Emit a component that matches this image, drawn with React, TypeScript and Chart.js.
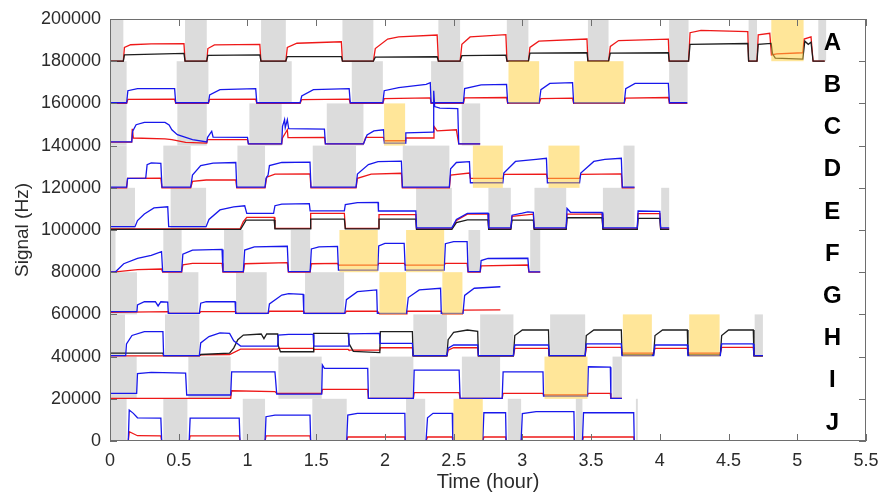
import React, { useEffect, useRef } from "react";
import { Chart, registerables } from "chart.js";
Chart.register(...registerables);

type P = [number, number];
type R = [number, number];

const X_TICKS = [0, 0.5, 1, 1.5, 2, 2.5, 3, 3.5, 4, 4.5, 5, 5.5];
const Y_TICKS = [0, 20000, 40000, 60000, 80000, 100000, 120000, 140000, 160000, 180000, 200000];
const ROW_LABELS = ["A", "B", "C", "D", "E", "F", "G", "H", "I", "J"];
const ROW_BASES = [180000, 160000, 140000, 120000, 100000, 80000, 60000, 40000, 20000, 0];
const BAND_HEIGHT = 20000;

// ---- Row A ----
const A_GRAY: R[] = [[0, 0.097], [0.546, 0.704], [1.099, 1.279], [1.691, 1.916], [2.389, 2.547], [2.887, 3.044], [3.477, 3.627], [4.068, 4.209], [4.646, 4.707], [5.153, 5.21]];
const A_YELLOW: R[] = [[4.811, 5.046]];
const A_RED: P[] = [[0, 180000], [0.097, 180000], [0.105, 186500], [0.15, 187800], [0.3, 188200], [0.538, 188300], [0.546, 180000],
  [0.704, 180000], [0.712, 186000], [0.76, 187700], [1.09, 188000], [1.098, 180000],
  [1.279, 180000], [1.29, 186500], [1.36, 188500], [1.683, 189200], [1.691, 180000],
  [1.916, 180000], [1.93, 186000], [2.02, 190500], [2.1, 191500], [2.38, 192400], [2.389, 180000],
  [2.547, 180000], [2.56, 188000], [2.62, 191500], [2.88, 192600], [2.888, 180000],
  [3.044, 180000], [3.055, 186500], [3.12, 189500], [3.47, 190500], [3.477, 180000],
  [3.627, 180000], [3.64, 187000], [3.7, 189800], [4.062, 190500], [4.068, 180000],
  [4.209, 180000], [4.22, 193500], [4.3, 194600], [4.64, 194000], [4.646, 180000],
  [4.707, 180000], [4.716, 192500], [4.8, 193200], [4.812, 183000], [4.85, 183500], [5.04, 184000], [5.05, 190500], [5.1, 191500], [5.115, 180000], [5.2, 180000]];
const A_BLACK: P[] = [[0, 180000], [0.097, 180000], [0.105, 183000], [0.538, 183700], [0.546, 180000],
  [0.704, 180000], [0.712, 182800], [1.09, 183000], [1.098, 180000],
  [1.279, 180000], [1.29, 182200], [1.683, 182200], [1.691, 180000],
  [1.916, 180000], [1.93, 181900], [2.38, 182100], [2.389, 180000],
  [2.547, 180000], [2.56, 182600], [2.88, 182900], [2.888, 180000],
  [3.044, 180000], [3.055, 183800], [3.47, 184000], [3.477, 180000],
  [3.627, 180000], [3.64, 183800], [4.062, 184000], [4.068, 180000],
  [4.209, 180000], [4.22, 188000], [4.64, 188400], [4.646, 180000],
  [4.707, 180000], [4.716, 188000], [4.81, 188400], [4.82, 183500], [4.84, 181500], [5.04, 181000], [5.055, 189500], [5.08, 188000], [5.1, 189000], [5.115, 180000], [5.2, 180000]];

// ---- Row B ----
const B_GRAY: R[] = [[0, 0.121], [0.485, 0.716], [1.084, 1.322], [1.759, 1.985], [2.336, 2.571], [4.068, 4.202]];
const B_YELLOW: R[] = [[2.899, 3.122], [3.377, 3.736]];
const B_BLUE: P[] = [[0, 160300], [0.121, 160300], [0.13, 166000], [0.2, 167000], [0.47, 167000], [0.478, 160300],
  [0.716, 160300], [0.725, 164000], [0.8, 166500], [1.06, 167000], [1.068, 160300],
  [1.383, 160300], [1.395, 163500], [1.48, 166500], [1.74, 167000], [1.748, 160300],
  [1.985, 160300], [1.995, 166000], [2.1, 167500], [2.3, 169000], [2.33, 169800], [2.336, 160300],
  [2.571, 160300], [2.58, 167000], [2.7, 168800], [2.885, 169000], [2.893, 160300],
  [3.122, 160300], [3.135, 166500], [3.2, 169500], [3.365, 169800], [3.373, 160300],
  [3.741, 160300], [3.752, 167000], [3.82, 169500], [4.062, 169500], [4.07, 160300], [4.2, 160300]];
const B_RED: P[] = [[0, 160000], [0.121, 160000], [0.13, 161900], [0.47, 162000], [0.478, 160000],
  [0.716, 160000], [0.725, 161900], [1.06, 162000], [1.068, 160000],
  [1.383, 160000], [1.395, 161800], [1.74, 162000], [1.748, 160000],
  [1.985, 160000], [1.995, 162300], [2.33, 162600], [2.336, 160000],
  [2.571, 160000], [2.58, 162600], [2.885, 162800], [2.893, 160000],
  [3.122, 160000], [3.135, 162300], [3.365, 162500], [3.373, 160000],
  [3.741, 160000], [3.752, 162500], [4.062, 162800], [4.07, 160000], [4.2, 160000]];

// ---- Row C ----
const C_GRAY: R[] = [[0, 0.121], [0.49, 0.704], [1.014, 1.249], [1.577, 1.844], [2.559, 2.693]];
const C_YELLOW: R[] = [[1.994, 2.147]];
const C_BLUE: P[] = [[0, 141800], [0.158, 141800], [0.165, 146800], [0.19, 149900], [0.25, 151000], [0.4, 151000], [0.43, 149800], [0.45, 147500], [0.49, 145200], [0.6, 142800], [0.704, 141700],
  [0.71, 143900], [0.74, 146800], [0.75, 144000], [1.0, 143900], [1.007, 140800],
  [1.249, 140800], [1.255, 149100], [1.27, 152300], [1.275, 148500], [1.29, 152300], [1.3, 148000], [1.56, 147800], [1.567, 140800],
  [1.844, 140800], [1.87, 145000], [1.92, 147000], [1.99, 147500], [1.996, 141200], [2.147, 141200],
  [2.152, 146000], [2.35, 146400], [2.355, 166000], [2.362, 158500], [2.4, 157800], [2.53, 157500], [2.537, 140800], [2.693, 140800]];
const C_RED: P[] = [[0, 141600], [0.158, 141600], [0.162, 148000], [0.17, 143600], [0.4, 143200], [0.45, 142800], [0.55, 141500], [0.704, 141200],
  [0.71, 142800], [1.0, 142800], [1.007, 140800],
  [1.249, 140800], [1.255, 143600], [1.29, 147500], [1.295, 143800], [1.56, 143900], [1.567, 140800],
  [1.844, 140800], [1.86, 143900], [1.99, 143900], [1.996, 142300], [2.147, 142300],
  [2.152, 143600], [2.35, 143600], [2.357, 149100], [2.38, 147000], [2.52, 147500], [2.537, 140800], [2.693, 140800]];

// ---- Row D ----
const D_GRAY: R[] = [[0, 0.121], [0.388, 0.587], [0.927, 1.128], [1.475, 1.79], [2.13, 2.469], [3.736, 3.816]];
const D_YELLOW: R[] = [[2.64, 2.858], [3.19, 3.416]];
const D_BLUE: P[] = [[0, 120300], [0.121, 120300], [0.128, 124500], [0.26, 124600], [0.27, 131000], [0.3, 131800], [0.37, 131600], [0.378, 120300],
  [0.587, 120300], [0.6, 126000], [0.66, 130500], [0.75, 131700], [0.915, 132000], [0.922, 120300],
  [1.128, 120300], [1.135, 124500], [1.15, 126000], [1.16, 130500], [1.25, 132000], [1.455, 132200], [1.462, 120300],
  [1.79, 120300], [1.8, 126500], [1.88, 131000], [1.95, 132400], [2.12, 132600], [2.127, 120300],
  [2.469, 120300], [2.478, 129000], [2.52, 132000], [2.615, 132400], [2.622, 122400], [2.858, 122400],
  [2.865, 127000], [2.95, 132500], [3.1, 133500], [3.175, 134000], [3.182, 122400], [3.416, 122400],
  [3.425, 127000], [3.52, 132500], [3.6, 133500], [3.72, 134000], [3.727, 120300], [3.816, 120300]];
const D_RED: P[] = [[0, 120000], [0.121, 120000], [0.128, 124500], [0.37, 124600], [0.378, 120000],
  [0.587, 120000], [0.6, 123000], [0.7, 123700], [0.915, 123800], [0.922, 120000],
  [1.128, 120000], [1.14, 125000], [1.2, 126500], [1.455, 126600], [1.462, 120000],
  [1.79, 120000], [1.8, 124500], [1.9, 126500], [2.12, 126900], [2.127, 120000],
  [2.469, 120000], [2.478, 126000], [2.615, 127000], [2.622, 124500], [2.858, 124500],
  [2.865, 126400], [3.175, 126500], [3.182, 124500], [3.416, 124500],
  [3.425, 126400], [3.72, 126600], [3.727, 120000], [3.816, 120000]];

// ---- Row E ----
const E_GRAY: R[] = [[0, 0.182], [0.441, 0.699], [2.227, 2.487], [2.753, 2.916], [3.088, 3.319], [3.586, 3.816], [4.01, 4.068]];
const E_YELLOW: R[] = [];
const E_BLUE: P[] = [[0, 101600], [0.182, 101600], [0.2, 104500], [0.25, 107600], [0.32, 110500], [0.42, 111000], [0.427, 101600],
  [0.699, 101600], [0.72, 105000], [0.8, 109500], [0.9, 111000], [0.98, 111500], [0.995, 107900], [1.19, 107900],
  [1.2, 111500], [1.25, 112300], [1.45, 112500], [1.456, 109100], [1.705, 109100],
  [1.712, 112000], [1.8, 113000], [1.95, 113100], [1.953, 109000], [2.225, 109000], [2.23, 101000],
  [2.487, 101000], [2.52, 105000], [2.6, 107900], [2.75, 108000], [2.755, 101000],
  [2.916, 101000], [2.925, 107000], [3.0, 108000], [3.04, 108600], [3.08, 108400], [3.086, 101000],
  [3.319, 101000], [3.325, 110200], [3.35, 108400], [3.58, 108300], [3.586, 101000],
  [3.836, 101000], [3.842, 109000], [4.0, 108800], [4.006, 101000], [4.068, 101000]];
const E_RED: P[] = [[0, 100500], [0.946, 100500], [0.97, 104000], [0.995, 106000], [1.195, 106000], [1.2, 100800], [1.456, 100800],
  [1.46, 107900], [1.705, 107900], [1.712, 100800], [1.953, 100800], [1.957, 107300], [2.225, 107300], [2.23, 100500],
  [2.487, 100500], [2.52, 104500], [2.6, 107500], [2.75, 107600], [2.755, 100500],
  [2.916, 100500], [2.925, 106500], [3.08, 107500], [3.086, 100500],
  [3.319, 100500], [3.325, 107500], [3.58, 107500], [3.586, 100500],
  [3.836, 100500], [3.842, 107800], [4.0, 107800], [4.006, 100500], [4.068, 100500]];
const E_BLACK: P[] = [[0, 100300], [0.95, 100300], [0.99, 104700], [1.195, 104700], [1.2, 100500], [1.456, 100500],
  [1.46, 105200], [1.705, 105200], [1.712, 100500], [1.953, 100500], [1.957, 105200], [2.225, 105200], [2.23, 100300],
  [2.487, 100300], [2.52, 103500], [2.6, 104800], [2.75, 104800], [2.755, 100300],
  [2.916, 100300], [2.925, 104700], [3.08, 104700], [3.086, 100300],
  [3.319, 100300], [3.325, 105800], [3.58, 105800], [3.586, 100300],
  [3.836, 100300], [3.842, 105500], [4.0, 105500], [4.006, 100300], [4.068, 100300]];

// ---- Row F ----
const F_GRAY: R[] = [[0, 0.04], [0.388, 0.521], [0.83, 0.97], [1.315, 1.456], [2.608, 2.693], [3.057, 3.13]];
const F_YELLOW: R[] = [[1.669, 1.948], [2.154, 2.431]];
const F_BLUE: P[] = [[0, 80200], [0.04, 80200], [0.1, 84000], [0.2, 86500], [0.3, 88000], [0.375, 89700], [0.383, 80300],
  [0.521, 80300], [0.53, 88500], [0.6, 90500], [0.815, 90800], [0.822, 80300],
  [0.97, 80300], [0.98, 90500], [1.05, 92000], [1.29, 92300], [1.298, 80300],
  [1.456, 80300], [1.465, 91000], [1.52, 92000], [1.655, 92200], [1.662, 81000], [1.948, 81000],
  [1.955, 92500], [2.0, 93700], [2.14, 93700], [2.148, 81000], [2.431, 81000],
  [2.44, 93500], [2.5, 94500], [2.598, 94500], [2.605, 80300],
  [2.693, 80300], [2.7, 85500], [2.75, 86500], [3.04, 86600], [3.048, 80200], [3.13, 80200]];
const F_RED: P[] = [[0, 80000], [0.04, 80200], [0.2, 81200], [0.375, 81500], [0.383, 80000],
  [0.521, 80000], [0.53, 83500], [0.6, 84200], [0.815, 84200], [0.822, 80000],
  [0.97, 80000], [0.98, 84000], [1.29, 84500], [1.298, 80000],
  [1.456, 80000], [1.465, 84000], [1.655, 84200], [1.662, 83400], [1.948, 83400],
  [1.955, 84200], [2.14, 84200], [2.148, 83400], [2.431, 83400], [2.44, 84200], [2.598, 84200], [2.605, 80000],
  [2.693, 80000], [2.7, 83000], [3.04, 83400], [3.048, 80000], [3.13, 80000]];

// ---- Row G ----
const G_GRAY: R[] = [[0, 0.196], [0.424, 0.643], [0.917, 1.14], [1.419, 1.703]];
const G_YELLOW: R[] = [[1.96, 2.154], [2.418, 2.564]];
const G_BLUE: P[] = [[0, 61300], [0.196, 61300], [0.2, 64500], [0.25, 66000], [0.33, 66000], [0.35, 64000], [0.37, 66000], [0.42, 65800], [0.424, 60500],
  [0.65, 60500], [0.66, 65300], [0.7, 66000], [0.91, 66000], [0.914, 60500],
  [1.15, 60500], [1.16, 65000], [1.25, 69200], [1.3, 69800], [1.405, 69500], [1.41, 60500],
  [1.708, 60500], [1.72, 67000], [1.8, 70800], [1.94, 71600], [1.945, 60500],
  [2.157, 60500], [2.17, 68000], [2.25, 71600], [2.405, 72400], [2.41, 60500],
  [2.568, 60500], [2.58, 69000], [2.65, 72400], [2.84, 73100]];
const G_RED: P[] = [[0, 61000], [0.424, 61300], [0.43, 60500], [0.65, 60500], [0.66, 61300], [0.914, 61300], [0.92, 60500],
  [1.15, 60500], [1.16, 61500], [1.41, 61500], [1.415, 60500], [1.708, 60500], [1.72, 61500], [1.945, 61500],
  [1.96, 60300], [2.154, 60300], [2.16, 61500], [2.41, 61500], [2.418, 60300], [2.564, 60300], [2.57, 62000], [2.84, 62100]];

// ---- Row H ----
const H_GRAY: R[] = [[0, 0.109], [0.4, 0.65], [2.207, 2.451], [2.693, 2.935], [3.202, 3.457], [4.69, 4.75]];
const H_YELLOW: R[] = [[3.731, 3.942], [4.214, 4.435]];
const H_BLUE: P[] = [[0, 40500], [0.114, 40500], [0.12, 46000], [0.16, 50000], [0.25, 51800], [0.385, 51800], [0.39, 40500],
  [0.65, 40500], [0.66, 46500], [0.72, 49500], [0.8, 51200], [0.87, 51000], [0.9, 47500], [0.95, 45000], [1.22, 45000],
  [1.225, 50200], [1.3, 50500], [1.478, 50500], [1.482, 45000], [1.733, 45000], [1.738, 50800], [1.96, 51000],
  [1.965, 46300], [2.2, 46300], [2.205, 40500],
  [2.451, 40500], [2.46, 44000], [2.5, 45500], [2.675, 45500], [2.68, 40500],
  [2.935, 40500], [2.945, 45500], [3.19, 45500], [3.195, 40500],
  [3.457, 40500], [3.465, 46000], [3.72, 46000], [3.725, 40500],
  [3.955, 40500], [3.965, 45500], [4.2, 45500], [4.205, 40500],
  [4.44, 40500], [4.45, 46000], [4.68, 46000], [4.685, 40500], [4.75, 40500]];
const H_BLACK: P[] = [[0, 41600], [0.385, 41600], [0.39, 40500], [0.65, 40500], [0.66, 41000], [0.87, 41600], [0.9, 44000], [0.93, 48000],
  [0.97, 50200], [1.1, 50700], [1.12, 48500], [1.14, 50700], [1.22, 50700], [1.225, 45000], [1.24, 42300], [1.478, 42300],
  [1.482, 51000], [1.733, 51000], [1.74, 46000], [1.77, 42500], [1.963, 41900], [1.967, 51800], [2.2, 51800], [2.205, 40300],
  [2.451, 40300], [2.46, 48000], [2.5, 51500], [2.6, 52600], [2.675, 52000], [2.68, 40300],
  [2.935, 40300], [2.945, 50000], [3.0, 52600], [3.19, 52600], [3.195, 40300],
  [3.457, 40300], [3.465, 50000], [3.52, 52600], [3.72, 52600], [3.725, 40800], [3.955, 40800],
  [3.965, 50000], [4.02, 52600], [4.2, 52600], [4.205, 40800], [4.44, 40800],
  [4.45, 50000], [4.5, 52600], [4.68, 52600], [4.685, 40300], [4.75, 40300]];
const H_RED: P[] = [[0, 40300], [0.65, 40300], [0.66, 40800], [0.87, 41000], [0.95, 43500], [1.22, 43500], [1.225, 43900], [1.478, 43900],
  [1.482, 43400], [1.733, 43400], [1.738, 43100], [1.963, 43100], [1.967, 44200], [2.2, 44200], [2.205, 40300],
  [2.451, 40300], [2.46, 43000], [2.5, 44200], [2.675, 44200], [2.68, 40300],
  [2.935, 40300], [2.945, 43900], [3.19, 43900], [3.195, 40300],
  [3.457, 40300], [3.465, 44400], [3.72, 44400], [3.725, 41600], [3.955, 41600],
  [3.965, 43900], [4.2, 43900], [4.205, 41600], [4.44, 41600],
  [4.45, 44400], [4.68, 44400], [4.685, 40300], [4.75, 40300]];

// ---- Row I ----
const I_GRAY: R[] = [[0, 0.194], [0.57, 0.878], [1.225, 1.54], [1.892, 2.207], [2.56, 2.838], [3.656, 3.724]];
const I_YELLOW: R[] = [[3.161, 3.474]];
const I_BLUE: P[] = [[0, 22600], [0.194, 22600], [0.2, 32000], [0.3, 32500], [0.55, 32200], [0.558, 21800], [0.878, 21800],
  [0.885, 32800], [1.2, 32800], [1.213, 22200], [1.54, 22200], [1.545, 36000], [1.56, 34400], [1.875, 34400], [1.88, 20200],
  [2.207, 20200], [2.213, 33600], [2.54, 33600], [2.547, 20200], [2.853, 20200], [2.86, 32800], [3.15, 32800], [3.154, 21300],
  [3.474, 21300], [3.48, 35200], [3.64, 35000], [3.644, 20200], [3.724, 20200]];
const I_RED: P[] = [[0, 20200], [0.878, 20200], [0.885, 23800], [1.2, 23400], [1.213, 22600], [1.54, 22600], [1.545, 24500], [1.875, 24500],
  [1.88, 20200], [2.207, 20200], [2.213, 22900], [2.54, 22900], [2.547, 20200], [2.853, 20200], [2.86, 22600], [3.15, 22600],
  [3.154, 21800], [3.474, 21800], [3.48, 22600], [3.64, 22600], [3.644, 20200], [3.724, 20200]];

// ---- Row J ----
const J_GRAY: R[] = [[0, 0.121], [0.388, 0.563], [0.966, 1.128], [1.472, 1.722], [2.154, 2.293], [2.894, 2.991], [3.389, 3.437], [3.826, 3.84]];
const J_YELLOW: R[] = [[2.499, 2.712]];
const J_BLUE: P[] = [[0, 0], [0.133, 0], [0.14, 14700], [0.17, 13100], [0.2, 11000], [0.37, 10800], [0.376, 0],
  [0.576, 0], [0.583, 10800], [0.94, 10800], [0.946, 0],
  [1.128, 0], [1.135, 11500], [1.2, 12300], [1.455, 12300], [1.46, 0],
  [1.722, 0], [1.73, 12300], [1.8, 13100], [2.145, 13100], [2.148, 0],
  [2.299, 0], [2.31, 11000], [2.35, 13100], [2.49, 13100], [2.494, 0],
  [2.712, 0], [2.72, 13400], [2.878, 13400], [2.882, 0],
  [2.991, 0], [3.0, 13000], [3.1, 13900], [3.375, 13900], [3.379, 0],
  [3.437, 0], [3.445, 13400], [3.81, 13400], [3.814, 0], [3.84, 0]];
const J_RED: P[] = [[0, 0], [0.133, 0], [0.14, 4400], [0.2, 2500], [0.37, 2400], [0.376, 0], [0.576, 0], [0.583, 2400], [0.94, 2400], [0.946, 0],
  [1.128, 0], [1.135, 2400], [1.455, 2400], [1.46, 0], [1.722, 0], [1.73, 1900], [2.145, 1900], [2.148, 0],
  [2.299, 0], [2.31, 1900], [2.49, 1900], [2.494, 0], [2.712, 0], [2.72, 1900], [2.878, 1900], [2.882, 0],
  [2.991, 0], [3.0, 1900], [3.375, 1900], [3.379, 0], [3.437, 0], [3.445, 1900], [3.81, 1900], [3.814, 0], [3.84, 0]];

const ROW_GRAYS: R[][] = [A_GRAY, B_GRAY, C_GRAY, D_GRAY, E_GRAY, F_GRAY, G_GRAY, H_GRAY, I_GRAY, J_GRAY];
const ROW_YELLOWS: R[][] = [A_YELLOW, B_YELLOW, C_YELLOW, D_YELLOW, E_YELLOW, F_YELLOW, G_YELLOW, H_YELLOW, I_YELLOW, J_YELLOW];
const BLUE_SERIES: P[][] = [B_BLUE, C_BLUE, D_BLUE, E_BLUE, F_BLUE, G_BLUE, H_BLUE, I_BLUE, J_BLUE];
const BLACK_SERIES: P[][] = [A_BLACK, E_BLACK, H_BLACK];
const RED_SERIES: P[][] = [A_RED, B_RED, C_RED, D_RED, E_RED, F_RED, G_RED, H_RED, I_RED, J_RED];

const FONT = "'Liberation Sans', Arial, Helvetica, sans-serif";
const TEXT_COLOR = "#2b2b2b";
const GRAY_FILL = "rgb(220,220,220)";
const YELLOW_FILL = "rgba(255,208,60,0.52)";
const RED = "rgb(238,24,24)";
const BLUE = "rgb(24,24,235)";
const BLACK = "rgb(30,30,30)";

const overlayPlugin = {
  id: "overlay",
  beforeDatasetsDraw(chart: any) {
    const { ctx, chartArea, scales } = chart;
    const x = scales.x, y = scales.y;
    ctx.save();
    ctx.beginPath();
    ctx.rect(chartArea.left, chartArea.top, chartArea.right - chartArea.left, chartArea.bottom - chartArea.top);
    ctx.clip();
    ctx.fillStyle = GRAY_FILL;
    ROW_BASES.forEach((base, i) => {
      ROW_GRAYS[i].forEach(([a, b]) => {
        const x0 = x.getPixelForValue(a), x1 = x.getPixelForValue(b);
        const y0 = y.getPixelForValue(base + BAND_HEIGHT), y1 = y.getPixelForValue(base);
        ctx.fillRect(x0, y0, x1 - x0, y1 - y0);
      });
    });
    ctx.restore();
  },
  afterDatasetsDraw(chart: any) {
    const { ctx, chartArea, scales } = chart;
    const x = scales.x, y = scales.y;
    const { left, right, top, bottom } = chartArea;
    ctx.save();
    ctx.fillStyle = YELLOW_FILL;
    ROW_BASES.forEach((base, i) => {
      ROW_YELLOWS[i].forEach(([a, b]) => {
        const x0 = x.getPixelForValue(a), x1 = x.getPixelForValue(b);
        const y0 = y.getPixelForValue(base + BAND_HEIGHT), y1 = y.getPixelForValue(base);
        ctx.fillRect(x0, y0, x1 - x0, y1 - y0);
      });
    });
    // frame
    ctx.strokeStyle = "#6e6e6e";
    ctx.lineWidth = 1;
    ctx.strokeRect(Math.round(left) + 0.5, Math.round(top) + 0.5, Math.round(right - left) - 1, Math.round(bottom - top) - 1);
    // inside ticks
    ctx.beginPath();
    const tl = 7;
    X_TICKS.forEach((v) => {
      const px = Math.round(x.getPixelForValue(v)) + 0.5;
      ctx.moveTo(px, bottom);
      ctx.lineTo(px, bottom - tl);
      ctx.moveTo(px, top);
      ctx.lineTo(px, top + tl);
    });
    Y_TICKS.forEach((v) => {
      const py = Math.round(y.getPixelForValue(v)) + 0.5;
      ctx.moveTo(left, py);
      ctx.lineTo(left + tl, py);
      ctx.moveTo(right, py);
      ctx.lineTo(right - tl, py);
    });
    ctx.stroke();
    // row labels
    ctx.fillStyle = "#000";
    ctx.font = `bold 24px ${FONT}`;
    ctx.textAlign = "center";
    ctx.textBaseline = "middle";
    ROW_LABELS.forEach((lab, i) => {
      ctx.fillText(lab, x.getPixelForValue(5.255), y.getPixelForValue(ROW_BASES[i] + 8500));
    });
    ctx.restore();
  },
};

function toXY(pts: P[]) {
  return pts.map(([t, v]) => ({ x: t, y: v }));
}

export default function App() {
  const ref = useRef<HTMLCanvasElement | null>(null);
  useEffect(() => {
    if (!ref.current) return;
    const mk = (pts: P[], color: string) => ({
      data: toXY(pts),
      showLine: true,
      borderColor: color,
      backgroundColor: color,
      borderWidth: 1.3,
      pointRadius: 0,
      pointHoverRadius: 0,
      tension: 0,
      fill: false,
    });
    const datasets = [
      ...BLUE_SERIES.map((s) => mk(s, BLUE)),
      ...BLACK_SERIES.map((s) => mk(s, BLACK)),
      ...RED_SERIES.map((s) => mk(s, RED)),
    ];
    const chart = new Chart(ref.current, {
      type: "scatter",
      data: { datasets },
      options: {
        responsive: false,
        animation: false,
        devicePixelRatio: 1,
        layout: { padding: { left: 0, right: 12, top: 19, bottom: 0 } },
        plugins: { legend: { display: false }, tooltip: { enabled: false } },
        scales: {
          x: {
            type: "linear",
            min: 0,
            max: 5.5,
            afterBuildTicks: (s: any) => {
              s.ticks = X_TICKS.map((v) => ({ value: v }));
            },
            afterFit: (s: any) => {
              s.height = 53;
              s.paddingLeft = 0;
              s.paddingRight = 0;
            },
            ticks: {
              autoSkip: false,
              maxRotation: 0,
              padding: 9,
              color: TEXT_COLOR,
              font: { family: FONT, size: 18 },
              callback: (v: any) => String(v),
            },
            grid: { display: false, drawTicks: false },
            border: { display: false },
            title: {
              display: true,
              text: "Time (hour)",
              color: TEXT_COLOR,
              font: { family: FONT, size: 20 },
              padding: { top: 0, bottom: 0 },
            },
          },
          y: {
            type: "linear",
            min: 0,
            max: 200000,
            afterBuildTicks: (s: any) => {
              s.ticks = Y_TICKS.map((v) => ({ value: v }));
            },
            afterFit: (s: any) => {
              s.width = 110;
              s.paddingTop = 0;
              s.paddingBottom = 0;
            },
            ticks: {
              autoSkip: false,
              padding: 9,
              color: TEXT_COLOR,
              font: { family: FONT, size: 18 },
              callback: (v: any) => String(v),
            },
            grid: { display: false, drawTicks: false },
            border: { display: false },
            title: {
              display: true,
              text: "Signal (Hz)",
              color: TEXT_COLOR,
              font: { family: FONT, size: 19 },
              padding: { top: 11, bottom: 0 },
            },
          },
        },
      },
      plugins: [overlayPlugin],
    } as any);
    return () => chart.destroy();
  }, []);
  return (
    <div style={{ position: "absolute", left: 0, top: 0, width: 878, height: 494, background: "#fff" }}>
      <canvas ref={ref} width={878} height={494} style={{ display: "block" }} />
    </div>
  );
}
